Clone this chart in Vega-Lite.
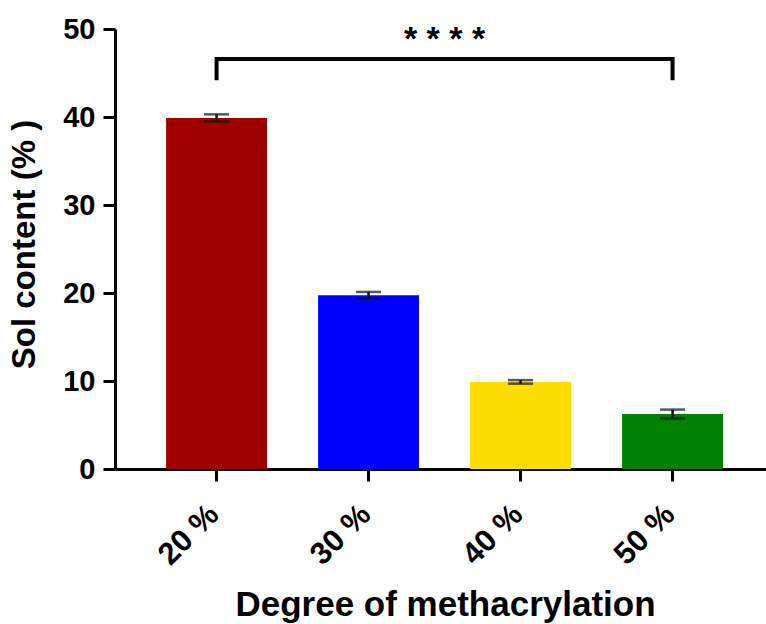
{
  "$schema": "https://vega.github.io/schema/vega-lite/v6.json",
  "width": 651,
  "height": 440,
  "autosize": {"type": "none"},
  "padding": {"left": 115, "top": 29, "right": 0, "bottom": 155},
  "background": "white",
  "config": {
    "view": {"stroke": null},
    "font": "Liberation Sans"
  },
  "datasets": {
    "sol": [
      {"dm": "20 %", "mean": 39.9, "sd": 0.4},
      {"dm": "30 %", "mean": 19.75, "sd": 0.37},
      {"dm": "40 %", "mean": 9.9, "sd": 0.2},
      {"dm": "50 %", "mean": 6.25, "sd": 0.5}
    ],
    "bracket": [
      {"dm": "20 %", "y": 44.4, "k": 0},
      {"dm": "20 %", "y": 46.6, "k": 1},
      {"dm": "50 %", "y": 46.6, "k": 2},
      {"dm": "50 %", "y": 44.4, "k": 3}
    ],
    "sig": [
      {"x1": "20 %", "x2": "50 %", "y": 47.6, "label": "* * * *"}
    ]
  },
  "layer": [
    {
      "data": {"name": "sol"},
      "mark": {"type": "bar"},
      "encoding": {
        "x": {
          "field": "dm",
          "type": "nominal",
          "sort": ["20 %", "30 %", "40 %", "50 %"],
          "scale": {"paddingInner": 0.336, "paddingOuter": 0.3095, "align": 0.543},
          "axis": {
            "title": "Degree of methacrylation",
            "titleFontSize": 35,
            "titleFontWeight": "bold",
            "titleColor": "black",
            "titleX": 330,
            "titleY": 146,
            "titleBaseline": "alphabetic",
            "titleAnchor": "middle",
            "labelAngle": -45,
            "labelFontSize": 31,
            "labelFontWeight": "bold",
            "labelColor": "black",
            "labelPadding": 18,
            "labelOffset": -13,
            "domainColor": "black",
            "domainWidth": 3,
            "tickColor": "black",
            "tickWidth": 3,
            "tickSize": 12
          }
        },
        "y": {
          "field": "mean",
          "type": "quantitative",
          "scale": {"domain": [0, 50], "nice": false},
          "axis": {
            "title": "Sol content (% )",
            "titleFontSize": 33,
            "titleFontWeight": "bold",
            "titleColor": "black",
            "titleX": -91,
            "titleY": 215,
            "titleAngle": -90,
            "titleBaseline": "middle",
            "titleAnchor": "middle",
            "values": [0, 10, 20, 30, 40, 50],
            "labelFontSize": 29,
            "labelFontWeight": "bold",
            "labelColor": "black",
            "labelPadding": 8,
            "domainColor": "black",
            "domainWidth": 3,
            "tickColor": "black",
            "tickWidth": 3,
            "tickSize": 12,
            "grid": false
          }
        },
        "color": {
          "field": "dm",
          "type": "nominal",
          "scale": {
            "domain": ["20 %", "30 %", "40 %", "50 %"],
            "range": ["#9e0000", "#0000ff", "#fddc00", "#008000"]
          },
          "legend": null
        }
      }
    },
    {
      "data": {"name": "sol"},
      "transform": [
        {"calculate": "datum.mean - datum.sd", "as": "lo"},
        {"calculate": "datum.mean + datum.sd", "as": "hi"}
      ],
      "mark": {"type": "rule", "color": "#111", "strokeWidth": 2.5},
      "encoding": {
        "x": {"field": "dm", "type": "nominal", "sort": ["20 %", "30 %", "40 %", "50 %"]},
        "y": {"field": "lo", "type": "quantitative"},
        "y2": {"field": "hi"}
      }
    },
    {
      "data": {"name": "sol"},
      "transform": [
        {"calculate": "datum.mean - datum.sd", "as": "lo"},
        {"calculate": "datum.mean + datum.sd", "as": "hi"},
        {"fold": ["lo", "hi"], "as": ["end", "v"]}
      ],
      "mark": {"type": "tick", "color": "#111", "size": 25, "thickness": 2.5},
      "encoding": {
        "x": {"field": "dm", "type": "nominal", "sort": ["20 %", "30 %", "40 %", "50 %"]},
        "y": {"field": "v", "type": "quantitative"}
      }
    },
    {
      "data": {"name": "bracket"},
      "mark": {"type": "line", "color": "black", "strokeWidth": 4, "strokeCap": "square"},
      "encoding": {
        "x": {"field": "dm", "type": "nominal", "sort": ["20 %", "30 %", "40 %", "50 %"]},
        "y": {"field": "y", "type": "quantitative"},
        "order": {"field": "k"}
      }
    },
    {
      "data": {"name": "sig"},
      "mark": {"type": "text", "fontSize": 34, "fontWeight": "bold", "color": "black", "baseline": "alphabetic", "align": "center", "dx": 228},
      "encoding": {
        "x": {"field": "x1", "type": "nominal", "sort": ["20 %", "30 %", "40 %", "50 %"]},
        "y": {"field": "y", "type": "quantitative"},
        "text": {"field": "label"}
      }
    }
  ]
}
